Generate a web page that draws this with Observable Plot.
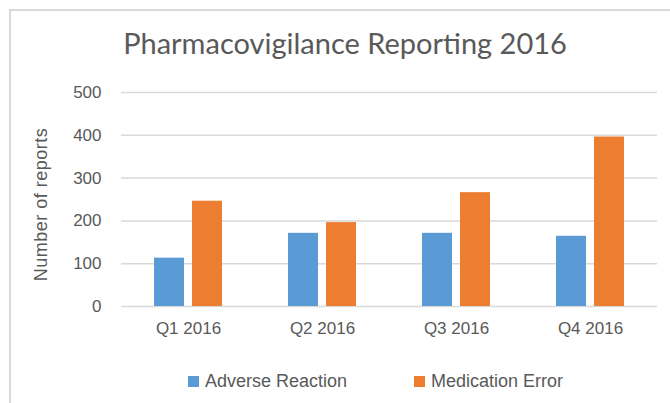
<!DOCTYPE html>
<html>
<head>
<meta charset="utf-8">
<script src="https://cdn.jsdelivr.net/npm/d3@7"></script>
<script src="https://cdn.jsdelivr.net/npm/@observablehq/plot@0.6"></script>
<style>
  html, body { margin: 0; padding: 0; background: #fff; }
  body { width: 670px; height: 403px; position: relative; overflow: hidden; font-family: "Liberation Sans", Arial, sans-serif; }
  #frame { position: absolute; left: 9px; top: 9px; width: 661px; height: 394px; border-top: 2px solid #d9d9d9; border-left: 2px solid #d9d9d9; box-sizing: border-box; }
  #title { position: absolute; left: 0; top: 25px; width: 690px; text-align: center; font-family: Lato, sans-serif; font-size: 29px; color: #595959; white-space: nowrap; }
  #chart { position: absolute; left: 0; top: 80px; }
  #legend { position: absolute; top: 371px; left: 0; width: 670px; font-size: 18px; color: #595959; }
  .item { position: absolute; white-space: nowrap; display: flex; align-items: center; }
  .sw { display: inline-block; width: 11px; height: 11px; margin-right: 6px; }
</style>
</head>
<body>
<div id="frame"></div>
<div id="title">Pharmacovigilance Reporting 2016</div>
<div id="chart"></div>
<div id="legend"></div>
<script>
const quarters = ["Q1 2016", "Q2 2016", "Q3 2016", "Q4 2016"];
const series = ["Adverse Reaction", "Medication Error"];
const adverseReaction = [113, 171, 171, 164];
const medicationError = [246, 196, 266, 396];
const yTicks = [0, 100, 200, 300, 400, 500];
const yLabel = "Number of reports";
const colors = ["#5b9bd5", "#ed7d31"];

const data = [];
quarters.forEach((q, i) => {
  data.push({quarter: q, series: series[0], value: adverseReaction[i]});
  data.push({quarter: q, series: series[1], value: medicationError[i]});
});

const plot = Plot.plot({
  width: 670,
  height: 270,
  marginLeft: 120,
  marginRight: 12,
  marginTop: 12,
  marginBottom: 44,
  style: {fontFamily: "'Liberation Sans', Arial, sans-serif", fontSize: "17px", color: "#595959", background: "transparent"},
  fx: {domain: quarters, padding: 0, label: null},
  x: {domain: series, paddingInner: 0.22, paddingOuter: 0.86, axis: null},
  y: {domain: [0, 500], label: null},
  color: {domain: series, range: colors},
  marks: [
    Plot.gridY(yTicks, {stroke: "#d9d9d9", strokeOpacity: 1, strokeWidth: 1.5}),
    Plot.axisY(yTicks, {tickSize: 0, tickPadding: 20, label: yLabel, labelAnchor: "center", labelArrow: "none", labelOffset: 87, fontSize: 17}),
    Plot.axisFx({anchor: "bottom", tickSize: 0, tickPadding: 15, label: null, fontSize: 17}),
    Plot.barY(data, {fx: "quarter", x: "series", y: "value", fill: "series"})
  ]
});
// style the y-axis title: slightly larger, a little letter spacing and a slight downward shift, as in the reference
d3.select(plot).selectAll("text").filter(function() { return this.textContent === yLabel; })
  .attr("letter-spacing", "0.5px")
  .attr("font-size", 18)
  .each(function() {
    const g = this.parentNode;
    g.setAttribute("font-size", 18);
    g.setAttribute("transform", (g.getAttribute("transform") || "") + " translate(0,5)");
  });
document.getElementById("chart").appendChild(plot);

const legend = document.getElementById("legend");
const lx = [188, 414];
series.forEach((s, i) => {
  const d = document.createElement("div");
  d.className = "item";
  d.style.left = lx[i] + "px";
  d.innerHTML = `<span class="sw" style="background:${colors[i]}"></span><span>${s}</span>`;
  legend.appendChild(d);
});
</script>
</body>
</html>
